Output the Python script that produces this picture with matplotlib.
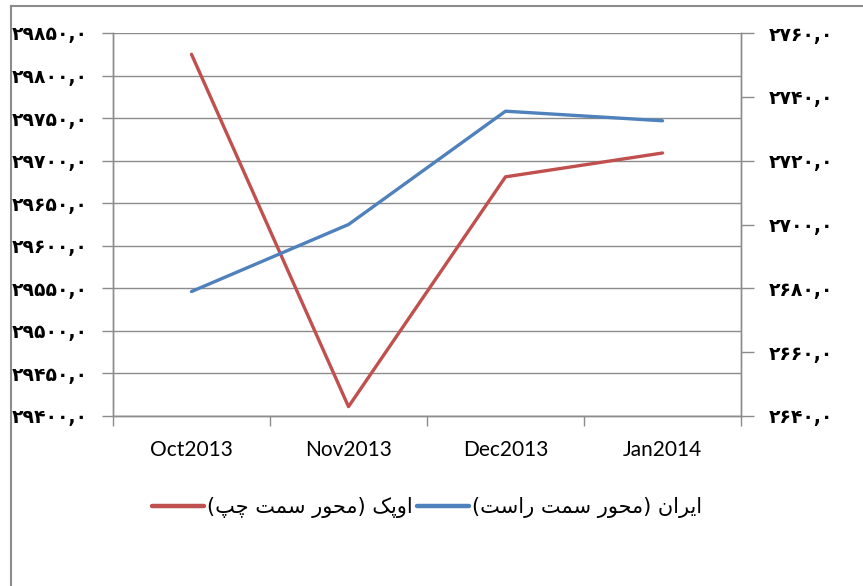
import matplotlib
matplotlib.use('Agg')
import matplotlib.pyplot as plt
from matplotlib.lines import Line2D
from matplotlib.ticker import FixedLocator, FuncFormatter, NullFormatter

# ---------------- data ----------------
categories = ['Oct2013', 'Nov2013', 'Dec2013', 'Jan2014']
opec_values = [29825, 29411, 29681, 29709]      # left axis
iran_values = [2679, 2700, 2735.5, 2732.5]      # right axis
left_ticks = [29400, 29450, 29500, 29550, 29600, 29650, 29700, 29750, 29800, 29850]
right_ticks = [2640, 2660, 2680, 2700, 2720, 2740, 2760]
legend_labels = ['اوپک (محور سمت چپ)', 'ایران (محور سمت راست)']

# ---------------- helpers ----------------
FORMS = {
    'ا': ('\uFE8D', '\uFE8E', None, None),
    'ر': ('\uFEAD', '\uFEAE', None, None),
    'و': ('\uFEED', '\uFEEE', None, None),
    'ی': ('\uFBFC', '\uFBFD', '\uFBFE', '\uFBFF'),
    'ن': ('\uFEE5', '\uFEE6', '\uFEE7', '\uFEE8'),
    'م': ('\uFEE1', '\uFEE2', '\uFEE3', '\uFEE4'),
    'ح': ('\uFEA1', '\uFEA2', '\uFEA3', '\uFEA4'),
    'س': ('\uFEB1', '\uFEB2', '\uFEB3', '\uFEB4'),
    'ت': ('\uFE95', '\uFE96', '\uFE97', '\uFE98'),
    'پ': ('\uFB56', '\uFB57', '\uFB58', '\uFB59'),
    'ک': ('\uFB8E', '\uFB8F', '\uFB90', '\uFB91'),
    'چ': ('\uFB7A', '\uFB7B', '\uFB7C', '\uFB7D'),
}


def shape_rtl(s):
    out = []
    for i, c in enumerate(s):
        if c not in FORMS:
            out.append(c)
            continue
        prev = s[i - 1] if i > 0 else None
        nxt = s[i + 1] if i + 1 < len(s) else None
        join_prev = prev in FORMS and FORMS[prev][2] is not None
        join_next = FORMS[c][2] is not None and nxt in FORMS
        iso, fin, ini, med = FORMS[c]
        if join_prev and join_next:
            out.append(med)
        elif join_prev:
            out.append(fin)
        elif join_next:
            out.append(ini)
        else:
            out.append(iso)
    vis = ''.join(reversed(out))
    mirror = {'(': ')', ')': '('}
    return ''.join(mirror.get(ch, ch) for ch in vis)


PERSIAN = str.maketrans('0123456789', '۰۱۲۳۴۵۶۷۸۹')


def fa_num(v, pos=None):
    return ('%.1f' % v).replace('.', ',').translate(PERSIAN)


# ---------------- figure ----------------
W, H = 863, 586
fig = plt.figure(figsize=(W / 100, H / 100), dpi=100)
fig.patch.set_facecolor('white')

ax = fig.add_axes([113 / W, 1 - 416 / H, (741 - 113) / W, (416 - 33) / H])
ax2 = ax.twinx()

x = list(range(len(categories)))
red = '#C0504D'
blue = '#4F81BD'
grid_c = '#8C8C8C'

l1, = ax.plot(x, opec_values, color=red, lw=2.4, solid_capstyle='round', zorder=3)
l2, = ax2.plot(x, iran_values, color=blue, lw=2.4, solid_capstyle='round', zorder=3)

ax.set_xlim(-0.5, len(categories) - 0.5)
ax.set_ylim(left_ticks[0], left_ticks[-1])
ax2.set_ylim(right_ticks[0], right_ticks[-1])

# x axis: labels at centers, tick marks at boundaries
ax.xaxis.set_major_locator(FixedLocator(x))
ax.set_xticklabels(categories, fontsize=15, family=['Lato', 'DejaVu Sans'])
ax.tick_params(axis='x', which='major', length=0, pad=17)
ax.xaxis.set_minor_locator(FixedLocator([i - 0.5 for i in range(len(categories) + 1)]))
ax.xaxis.set_minor_formatter(NullFormatter())
ax.tick_params(axis='x', which='minor', length=7, color=grid_c, width=1)

# left y axis
ax.yaxis.set_major_locator(FixedLocator(left_ticks))
ax.yaxis.set_major_formatter(FuncFormatter(fa_num))
ax.tick_params(axis='y', length=8, color=grid_c, width=1, pad=10)
for t in ax.get_yticklabels():
    t.set_fontsize(13.5)
    t.set_fontweight('bold')
    t.set_family('DejaVu Sans')
ax.grid(axis='y', color=grid_c, lw=1)
ax.set_axisbelow(True)

# right y axis
ax2.yaxis.set_major_locator(FixedLocator(right_ticks))
ax2.yaxis.set_major_formatter(FuncFormatter(fa_num))
ax2.tick_params(axis='y', length=9, color=grid_c, width=1, pad=11)
for t in ax2.get_yticklabels():
    t.set_fontsize(13.5)
    t.set_fontweight('bold')
    t.set_family('DejaVu Sans')

for a in (ax, ax2):
    for s in a.spines.values():
        s.set_color(grid_c)
        s.set_linewidth(1)
    a.spines['top'].set_visible(False)

# legend
leg = fig.legend([l1, l2], [shape_rtl(s) for s in legend_labels], ncol=2,
                 loc='center', bbox_to_anchor=(427 / W, 1 - 508 / H),
                 frameon=False, handlelength=2.5, handletextpad=0.15,
                 columnspacing=0.2, prop={'family': 'DejaVu Sans', 'size': 15})
for h in leg.get_lines():
    h.set_linewidth(3.2)

# outer border (left and top edges visible)
fig.add_artist(Line2D([11 / W, 11 / W], [0, 1 - 5.5 / H], transform=fig.transFigure,
                      color='#8C8C8C', lw=1.5))
fig.add_artist(Line2D([11 / W, 1], [1 - 5.5 / H, 1 - 5.5 / H], transform=fig.transFigure,
                      color='#8C8C8C', lw=1.5))

fig.savefig('out.png', dpi=100)
